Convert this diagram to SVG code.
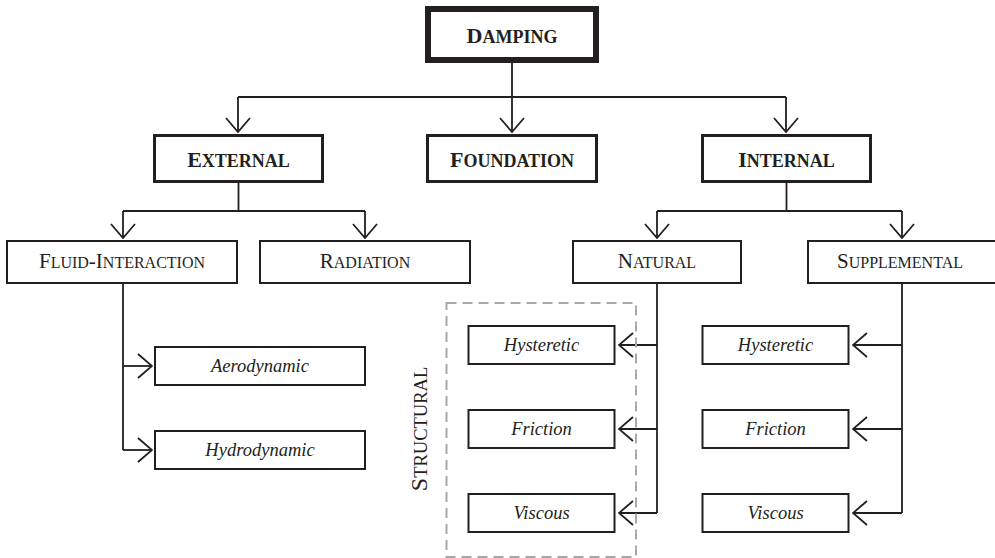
<svg xmlns="http://www.w3.org/2000/svg" width="995" height="558" viewBox="0 0 995 558">
<defs>
<marker id="arr" viewBox="0 0 16 26" refX="15" refY="13" markerWidth="16" markerHeight="26" orient="auto" markerUnits="userSpaceOnUse">
<path d="M1,1 L15,13 L1,25" fill="none" stroke="#231f20" stroke-width="1.8"/>
</marker>
</defs>
<style>
.b{fill:#fff;stroke:#231f20}
.top{stroke-width:6}
.l2{stroke-width:3}
.l3{stroke-width:2}
.t{font-family:"Liberation Serif","Times New Roman",serif;fill:#231f20;text-anchor:middle}
.bold{font-weight:bold;font-size:22px}
.reg{font-size:21px}
.it{font-style:italic;font-size:18.5px}
.c{fill:none;stroke:#231f20;stroke-width:1.8}
.sm{font-size:18px}
.sr{font-size:16px}
</style>
<g id="connectors">
<path class="c" d="M512,63 V97 M238,97 H786"/>
<path class="c" d="M238,97 V132" marker-end="url(#arr)"/>
<path class="c" d="M512,97 V132" marker-end="url(#arr)"/>
<path class="c" d="M786,97 V132" marker-end="url(#arr)"/>
<path class="c" d="M238.5,183 V211 M123,211 H365"/>
<path class="c" d="M123,211 V238" marker-end="url(#arr)"/>
<path class="c" d="M365,211 V238" marker-end="url(#arr)"/>
<path class="c" d="M786.5,183 V211 M657,211 H902"/>
<path class="c" d="M657,211 V238" marker-end="url(#arr)"/>
<path class="c" d="M902,211 V238" marker-end="url(#arr)"/>
<path class="c" d="M123,283 V450"/>
<path class="c" d="M123,366 H152" marker-end="url(#arr)"/>
<path class="c" d="M123,450 H152" marker-end="url(#arr)"/>
<path class="c" d="M657,284 V513"/>
<path class="c" d="M657,345 H619" marker-end="url(#arr)"/>
<path class="c" d="M657,429 H619" marker-end="url(#arr)"/>
<path class="c" d="M657,513 H619" marker-end="url(#arr)"/>
<path class="c" d="M902,284 V513"/>
<path class="c" d="M902,345 H853" marker-end="url(#arr)"/>
<path class="c" d="M902,429 H853" marker-end="url(#arr)"/>
<path class="c" d="M902,513 H853" marker-end="url(#arr)"/>
</g>
<g id="structural">
<rect x="446.5" y="303" width="189.5" height="254" fill="none" stroke="#a7a9ac" stroke-width="2" stroke-dasharray="10,6"/>
<text class="t" transform="translate(427,429) rotate(-90)" font-size="24px">S<tspan font-size="18.5px">TRUCTURAL</tspan></text>
</g>
<g id="damping">
<rect class="b top" x="428" y="9" width="168" height="51"/>
<text class="t bold" x="512" y="43">D<tspan class="sm">AMPING</tspan></text>
</g>
<g id="external">
<rect class="b l2" x="154.5" y="135.5" width="168" height="46"/>
<text class="t bold" x="238.5" y="166.5">E<tspan class="sm">XTERNAL</tspan></text>
</g>
<g id="foundation">
<rect class="b l2" x="427.5" y="135.5" width="169" height="46"/>
<text class="t bold" x="512" y="166.5">F<tspan class="sm">OUNDATION</tspan></text>
</g>
<g id="internal">
<rect class="b l2" x="702.5" y="135.5" width="168" height="46"/>
<text class="t bold" x="786.5" y="166.5">I<tspan class="sm">NTERNAL</tspan></text>
</g>
<g id="fluid">
<rect class="b l3" x="7" y="241" width="230" height="42"/>
<text class="t reg" x="122" y="268">F<tspan class="sr">LUID</tspan>-I<tspan class="sr">NTERACTION</tspan></text>
</g>
<g id="radiation">
<rect class="b l3" x="260" y="241" width="210" height="42"/>
<text class="t reg" x="365" y="268">R<tspan class="sr">ADIATION</tspan></text>
</g>
<g id="natural">
<rect class="b l3" x="573" y="241" width="168" height="42"/>
<text class="t reg" x="657" y="268">N<tspan class="sr">ATURAL</tspan></text>
</g>
<g id="supplemental">
<rect class="b l3" x="808" y="241" width="200" height="42"/>
<text class="t reg" x="900" y="268">S<tspan class="sr">UPPLEMENTAL</tspan></text>
</g>
<g id="aerodynamic">
<rect class="b l3" x="155" y="347" width="210" height="38"/>
<text class="t it" x="260" y="372">Aerodynamic</text>
</g>
<g id="hydrodynamic">
<rect class="b l3" x="155" y="431" width="210" height="38"/>
<text class="t it" x="260" y="456">Hydrodynamic</text>
</g>
<g id="nat-hysteretic">
<rect class="b l3" x="468.5" y="326" width="146" height="38"/>
<text class="t it" x="541.5" y="351">Hysteretic</text>
</g>
<g id="nat-friction">
<rect class="b l3" x="468.5" y="410" width="146" height="38"/>
<text class="t it" x="541.5" y="435">Friction</text>
</g>
<g id="nat-viscous">
<rect class="b l3" x="468.5" y="494" width="146" height="38"/>
<text class="t it" x="541.5" y="519">Viscous</text>
</g>
<g id="sup-hysteretic">
<rect class="b l3" x="702.5" y="326" width="146" height="38"/>
<text class="t it" x="775.5" y="351">Hysteretic</text>
</g>
<g id="sup-friction">
<rect class="b l3" x="702.5" y="410" width="146" height="38"/>
<text class="t it" x="775.5" y="435">Friction</text>
</g>
<g id="sup-viscous">
<rect class="b l3" x="702.5" y="494" width="146" height="38"/>
<text class="t it" x="775.5" y="519">Viscous</text>
</g>
</svg>
